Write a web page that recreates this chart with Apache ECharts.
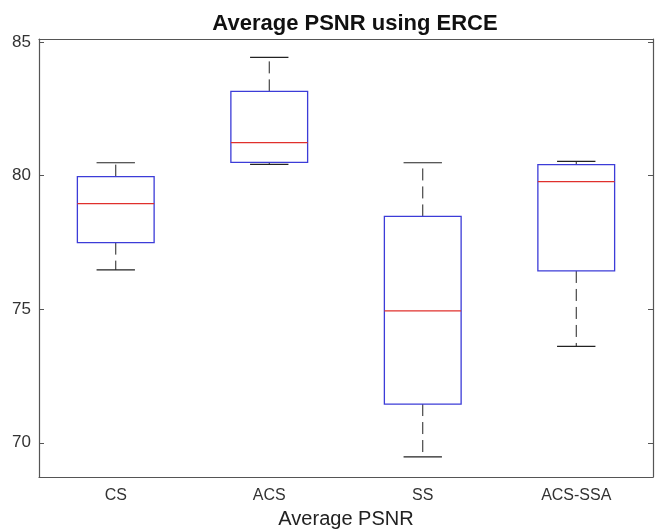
<!DOCTYPE html>
<html>
<head>
<meta charset="utf-8">
<script src="https://cdn.jsdelivr.net/npm/echarts@6/dist/echarts.min.js"></script>
<style>html,body{margin:0;padding:0;background:#fff;}#c{width:661px;height:531px;}</style>
</head>
<body>
<div id="c"></div>
<script>
const categories = ['CS', 'ACS', 'SS', 'ACS-SSA'];
const lowerWhisker = [76.47, 80.42, 69.47, 73.61];
const q1 = [77.49, 80.49, 71.45, 76.43];
const median = [78.95, 81.23, 74.94, 79.77];
const q3 = [79.96, 83.15, 78.47, 80.41];
const upperWhisker = [80.48, 84.42, 80.48, 80.53];
const yTicks = [70, 75, 80, 85];

const data = categories.map((c, i) => [i, lowerWhisker[i], q1[i], median[i], q3[i], upperWhisker[i]]);

const font = 'Liberation Sans, Arial, sans-serif';
const axisColor = '#555';

function renderItem(params, api) {
  const x = api.value(0);
  const band = api.size([1, 0])[0];
  const hw = band * 0.25;
  const cw = band * 0.125;
  const pLo = api.coord([x, api.value(1)]);
  const pQ1 = api.coord([x, api.value(2)]);
  const pMed = api.coord([x, api.value(3)]);
  const pQ3 = api.coord([x, api.value(4)]);
  const pHi = api.coord([x, api.value(5)]);
  const cx = pMed[0];
  const dash = { stroke: '#222', lineWidth: 1, lineDash: [12, 6] };
  const solid = { stroke: '#222', lineWidth: 1.2 };
  return {
    type: 'group',
    children: [
      { type: 'line', shape: { x1: cx, y1: pQ3[1], x2: cx, y2: pHi[1] }, style: dash },
      { type: 'line', shape: { x1: cx, y1: pQ1[1], x2: cx, y2: pLo[1] }, style: dash },
      { type: 'line', shape: { x1: cx - cw, y1: pHi[1], x2: cx + cw, y2: pHi[1] }, style: solid },
      { type: 'line', shape: { x1: cx - cw, y1: pLo[1], x2: cx + cw, y2: pLo[1] }, style: solid },
      { type: 'rect', shape: { x: cx - hw, y: pQ3[1], width: hw * 2, height: pQ1[1] - pQ3[1] },
        style: { fill: '#fff', stroke: '#3c3cd8', lineWidth: 1.3 } },
      { type: 'line', shape: { x1: cx - hw, y1: pMed[1], x2: cx + hw, y2: pMed[1] },
        style: { stroke: '#e0302c', lineWidth: 1.2 } }
    ]
  };
}

const chart = echarts.init(document.getElementById('c'), null, { renderer: 'canvas' });
chart.setOption({
  backgroundColor: '#fff',
  animation: false,
  title: {
    text: 'Average PSNR using ERCE',
    left: 350, top: 8, textAlign: 'center',
    textStyle: { fontFamily: font, fontSize: 22, fontWeight: 'bold', color: '#111' }
  },
  grid: { left: 39, right: 8, top: 39, bottom: 54, containLabel: false, outerBoundsMode: 'none' },
  xAxis: [
    {
      type: 'category', data: categories, position: 'bottom',
      name: 'Average PSNR', nameLocation: 'middle', nameGap: 32,
      nameTextStyle: { fontFamily: font, fontSize: 20, color: '#222' },
      axisLine: { lineStyle: { color: axisColor, width: 1.2 } },
      axisTick: { alignWithLabel: true, inside: true, length: 5, lineStyle: { color: axisColor } },
      axisLabel: { fontFamily: font, fontSize: 16, color: '#333', margin: 11 },
      splitLine: { show: false }
    },
    {
      type: 'category', data: categories, position: 'top',
      axisLine: { lineStyle: { color: axisColor, width: 1.2 } },
      axisTick: { alignWithLabel: true, inside: true, length: 5, lineStyle: { color: axisColor } },
      axisLabel: { show: false },
      splitLine: { show: false }
    }
  ],
  yAxis: [
    {
      type: 'value', min: 68.72, max: 85.11, position: 'left',
      axisLine: { show: true, lineStyle: { color: axisColor, width: 1.2 } },
      axisTick: { show: true, inside: true, length: 5, customValues: yTicks, lineStyle: { color: axisColor } },
      axisLabel: { customValues: yTicks, fontFamily: font, fontSize: 17, color: '#333', margin: 8 },
      splitLine: { show: false }
    },
    {
      type: 'value', min: 68.72, max: 85.11, position: 'right',
      axisLine: { show: true, lineStyle: { color: axisColor, width: 1.2 } },
      axisTick: { show: true, inside: true, length: 5, customValues: yTicks, lineStyle: { color: axisColor } },
      axisLabel: { show: false },
      splitLine: { show: false }
    }
  ],
  series: [{
    type: 'custom',
    xAxisIndex: 0, yAxisIndex: 0,
    renderItem: renderItem,
    encode: { x: 0, y: [1, 2, 3, 4, 5] },
    data: data
  }]
});
</script>
</body>
</html>
